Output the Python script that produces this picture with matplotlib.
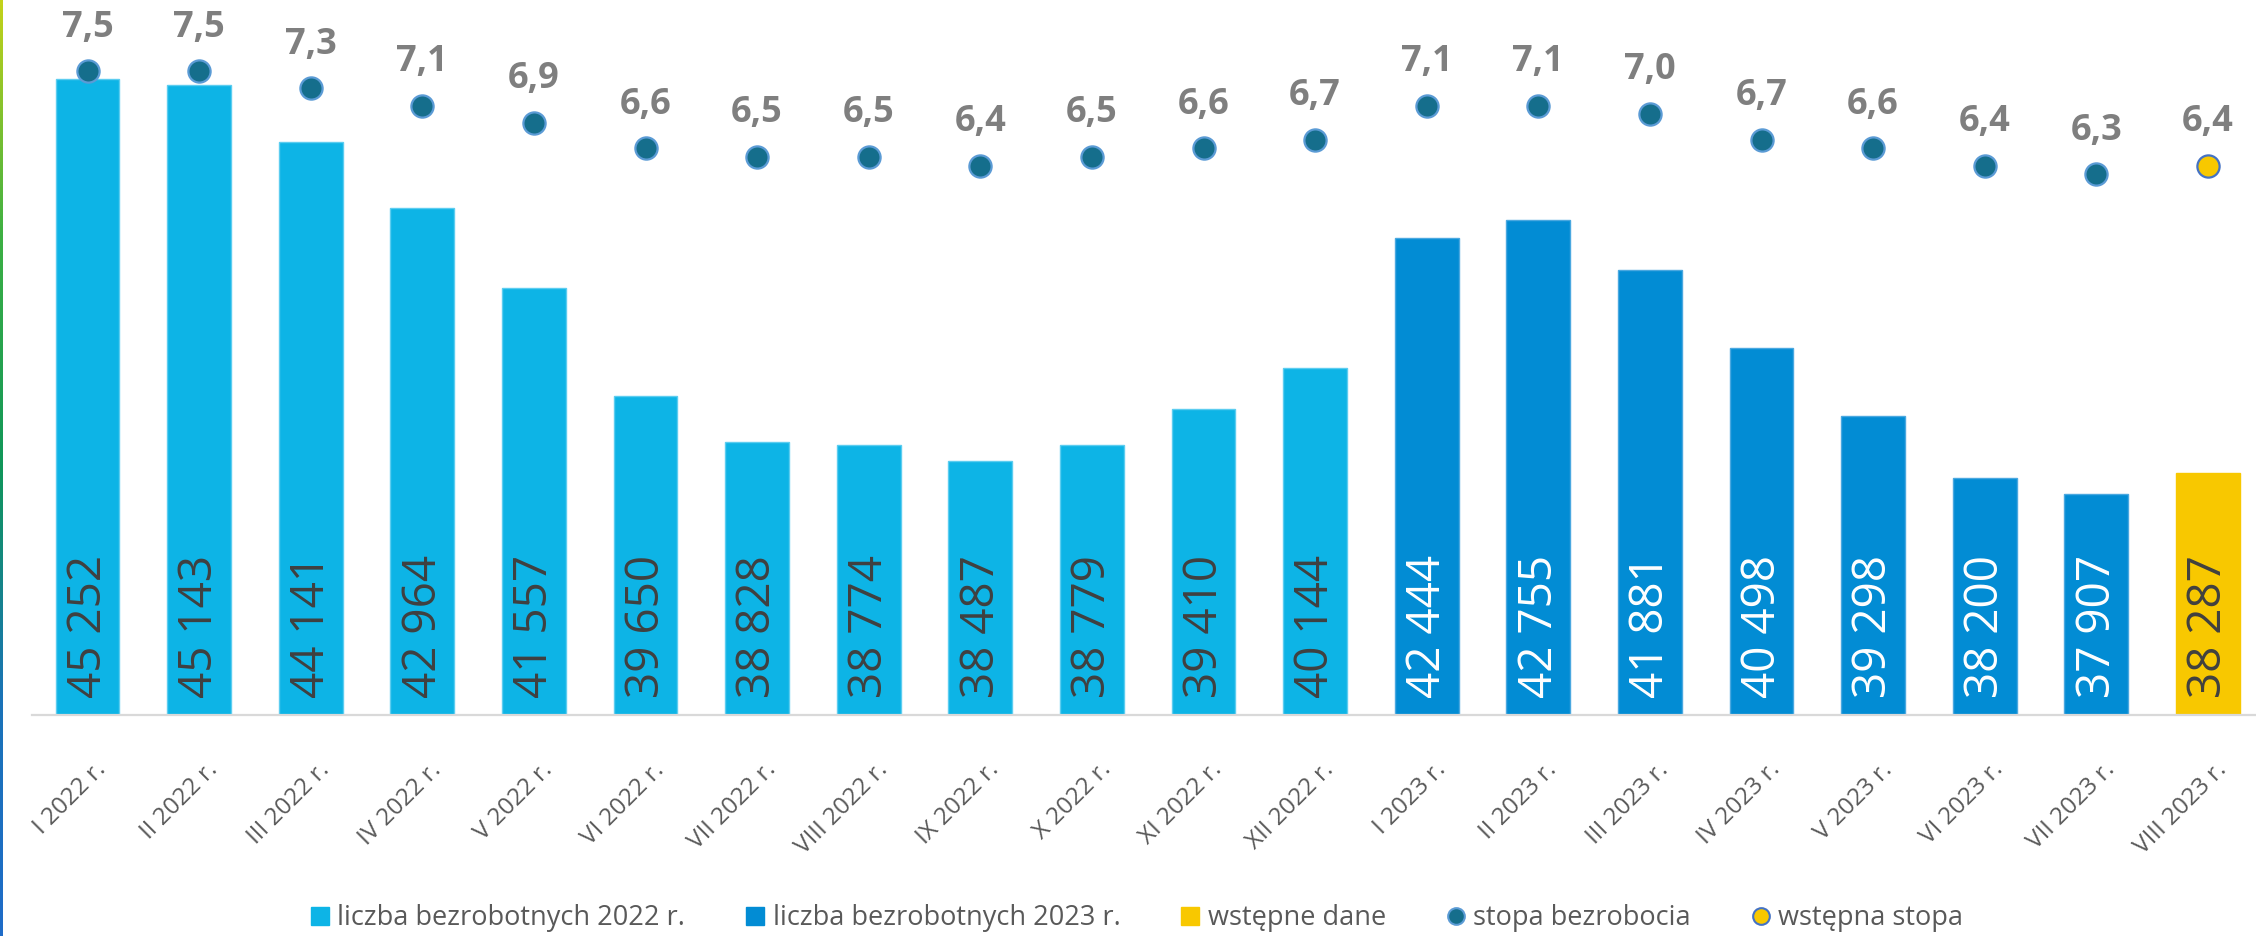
import numpy as np
import matplotlib
matplotlib.use("Agg")
import matplotlib.pyplot as plt
from matplotlib.colors import LinearSegmentedColormap
from matplotlib.lines import Line2D
from matplotlib.patches import Patch

plt.rcParams['font.family'] = ['Open Sans', 'DejaVu Sans']

# data
months = ['I 2022 r.', 'II 2022 r.', 'III 2022 r.', 'IV 2022 r.', 'V 2022 r.', 'VI 2022 r.',
          'VII 2022 r.', 'VIII 2022 r.', 'IX 2022 r.', 'X 2022 r.', 'XI 2022 r.', 'XII 2022 r.',
          'I 2023 r.', 'II 2023 r.', 'III 2023 r.', 'IV 2023 r.', 'V 2023 r.', 'VI 2023 r.',
          'VII 2023 r.', 'VIII 2023 r.']
unemployed = [45252, 45143, 44141, 42964, 41557, 39650, 38828, 38774, 38487, 38779,
              39410, 40144, 42444, 42755, 41881, 40498, 39298, 38200, 37907, 38287]
rate = [7.5, 7.5, 7.3, 7.1, 6.9, 6.6, 6.5, 6.5, 6.4, 6.5,
        6.6, 6.7, 7.1, 7.1, 7.0, 6.7, 6.6, 6.4, 6.3, 6.4]
group = ['2022'] * 12 + ['2023'] * 7 + ['wst']

bar_col = {'2022': '#0db4e6', '2023': '#028cd4', 'wst': '#f8c800'}
bar_edge = {'2022': '#5ccdf0', '2023': '#4aa8e0', 'wst': '#f8c800'}
txt_col = {'2022': '#404040', '2023': '#ffffff', 'wst': '#404040'}
dot_face = '#156e8c'
dot_edge = '#5b9bd5'
gray = '#595959'

fig = plt.figure(figsize=(22.56, 9.36), dpi=100)
ax = fig.add_axes([31.7 / 2256, 1 - 715 / 936, 2232 / 2256, 715 / 936])
x = np.arange(len(months))

ax.bar(x, unemployed, width=0.573, color=[bar_col[g] for g in group],
       edgecolor=[bar_edge[g] for g in group], linewidth=1, zorder=2)
ax.set_ylim(34000, 46650)
ax.set_xlim(-0.5, len(months) - 0.5)
ax.set_yticks([])
ax.set_xticks([])
for s in ['top', 'right', 'left']:
    ax.spines[s].set_visible(False)
ax.spines['bottom'].set_color('#d9d9d9')
ax.spines['bottom'].set_linewidth(1.6)
ax.spines['bottom'].set_zorder(3)

for i, v in enumerate(unemployed):
    s = f'{v:,}'.replace(',', ' ')
    ax.annotate(s, xy=(i, 0), xycoords=('data', 'axes fraction'), xytext=(1, 12),
                textcoords='offset points', rotation=90, ha='center', va='bottom',
                fontsize=33, color=txt_col[group[i]], zorder=3)
    ax.annotate(months[i], xy=(i, 0), xycoords=('data', 'axes fraction'), xytext=(11, -37),
                textcoords='offset points', rotation=45, rotation_mode='anchor',
                ha='right', va='center', fontsize=17.5, color=gray, annotation_clip=False)

ax2 = ax.twinx()
ax2.set_ylim(0, 8.33)
ax2.axis('off')
for i, r in enumerate(rate):
    if group[i] == 'wst':
        fc, ec = bar_col['wst'], '#4472c4'
    else:
        fc, ec = dot_face, dot_edge
    ax2.plot(i, r, 'o', ms=16, mfc=fc, mec=ec, mew=1.6, zorder=4)
    ax2.annotate(f'{r:.1f}'.replace('.', ','), xy=(i, r), xytext=(0, 25),
                 textcoords='offset points', ha='center', va='baseline',
                 fontsize=26, fontweight='bold', color='#7f7f7f')

handles = [
    Patch(color=bar_col['2022'], label='liczba bezrobotnych 2022 r.'),
    Patch(color=bar_col['2023'], label='liczba bezrobotnych 2023 r.'),
    Patch(color=bar_col['wst'], label='wstępne dane'),
    Line2D([], [], ls='', marker='o', ms=12, mfc=dot_face, mec=dot_edge, mew=1.5,
           label='stopa bezrobocia'),
    Line2D([], [], ls='', marker='o', ms=12, mfc=bar_col['wst'], mec='#4472c4', mew=1.5,
           label='wstępna stopa'),
]
fig.legend(handles=handles, loc='center', bbox_to_anchor=(0.504, 0.019), ncol=5,
           frameon=False, fontsize=19.5, labelcolor=gray, handlelength=0.67,
           handleheight=0.67, handletextpad=0.3, columnspacing=2.25)

# thin gradient stripe on the left edge
cmap = LinearSegmentedColormap.from_list('edge', ['#c3d21a', '#3db043', '#10965a',
                                                  '#1a73b8', '#1f6cc8'])
lax = fig.add_axes([0, 0, 2.5 / 2256, 1])
lax.imshow(np.linspace(0, 1, 256).reshape(-1, 1), aspect='auto', cmap=cmap)
lax.axis('off')

fig.savefig('out.png', dpi=100)
